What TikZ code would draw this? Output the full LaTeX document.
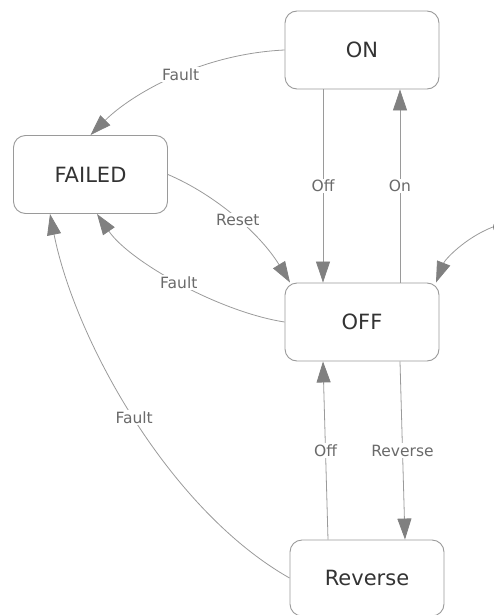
\documentclass[tikz,border=0pt]{standalone}
\usepackage{fontspec}
\setmainfont{DejaVu Sans}
\usetikzlibrary{arrows.meta}
\definecolor{edgec}{HTML}{9A9A9A}
\definecolor{tipc}{HTML}{808080}
\definecolor{labc}{HTML}{6A6A6A}
\definecolor{boxtc}{HTML}{333333}
\tikzset{
  state/.style={draw=edgec, line width=0.9pt, rounded corners=12pt, fill=white,
    minimum width=154pt, minimum height=78pt, inner sep=0pt,
    font=\fontsize{21}{25}\selectfont, text=boxtc},
  trans/.style={draw=edgec, line width=0.8pt, -{Triangle[length=21pt,width=14pt,fill=tipc,color=tipc]}},
  lab/.style={fill=white, inner sep=1.5pt, text=labc, font=\fontsize{15.5}{18}\selectfont}
}
\begin{document}
\begin{tikzpicture}[x=1pt,y=-1pt]
\useasboundingbox (0,0) rectangle (494,615);
\node[state] (on) at (362,50) {ON};
\node[state] (failed) at (90.5,174.5) {FAILED};
\node[state] (off) at (362,322) {OFF};
\node[state, minimum height=76pt] (rev) at (367,578) {Reverse};
\node[circle, fill=tipc, minimum size=12pt, inner sep=0pt] (init) at (499,227) {};
\draw[trans] (on.west) .. controls +(-85,4) and +(40,-40) .. (failed.north)
  node[lab, pos=0.45] {Fault};
\draw[trans] ([xshift=-39pt]on.south) -- ([xshift=-39pt]off.north)
  node[lab, midway] {Off};
\draw[trans] ([xshift=38pt]off.north) -- ([xshift=38pt]on.south)
  node[lab, midway] {On};
\draw[trans] (failed.east) .. controls +(47,20) and +(-30,-49) .. ([xshift=-72pt]off.north)
  node[lab, pos=0.52] {Reset};
\draw[trans] (off.west) .. controls +(-65,-10) and +(33,48) .. ([xshift=6.5pt]failed.south)
  node[lab, pos=0.5] {Fault};
\draw[trans] (rev.west) .. controls +(-120,-68) and +(25,126) .. ([xshift=-40.5pt]failed.south)
  node[lab, pos=0.5] {Fault};
\draw[trans] ([xshift=-39pt]rev.north) -- ([xshift=-39pt]off.south)
  node[lab, midway] {Off};
\draw[trans] ([xshift=38pt]off.south) -- ([xshift=38pt]rev.north)
  node[lab, midway] {Reverse};
\draw[trans] (init.west) .. controls +(-28,11) and +(9,-23) .. ([xshift=74pt]off.north);
\end{tikzpicture}
\end{document}
